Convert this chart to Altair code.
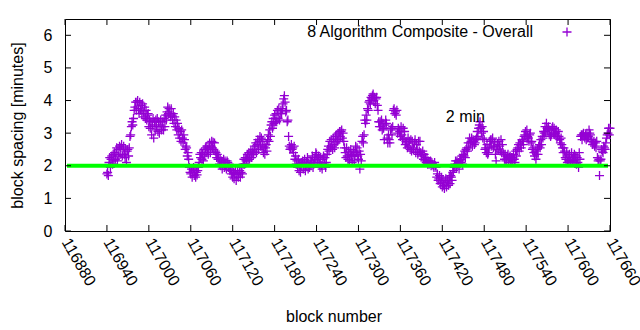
import altair as alt
import pandas as pd

# ---------------- data ----------------
start_block = 116940
spacing_rows = [
    [1.75, 1.80, 1.70, 2.10, 2.25, 1.95, 2.20, 2.30, 2.05, 2.35],
    [2.15, 2.40, 2.20, 2.35, 2.55, 2.15, 2.50, 2.30, 2.60, 2.35],
    [2.55, 2.65, 2.30, 2.50, 2.60, 2.35, 2.25, 2.50, 2.10, 2.45],
    [2.50, 2.30, 2.55, 2.90, 2.95, 3.20, 3.35, 3.25, 3.45, 3.70],
    [3.80, 3.95, 3.70, 3.95, 4.00, 3.75, 3.60, 3.95, 3.70, 3.85],
    [3.60, 3.90, 3.65, 3.50, 3.80, 3.45, 3.70, 3.40, 3.55, 3.60],
    [3.20, 3.40, 3.15, 3.35, 2.95, 3.25, 3.45, 2.85, 3.35, 3.10],
    [3.40, 3.20, 3.45, 3.05, 3.35, 3.00, 3.25, 3.40, 3.10, 3.20],
    [3.35, 3.10, 3.45, 3.20, 3.55, 3.40, 3.65, 3.80, 3.60, 3.75],
    [3.60, 3.50, 3.75, 3.55, 3.40, 3.60, 3.30, 3.50, 3.20, 3.40],
    [3.10, 3.30, 2.95, 3.15, 2.85, 3.05, 2.75, 3.10, 2.85, 2.70],
    [2.95, 2.80, 2.50, 2.60, 2.55, 2.30, 2.40, 2.20, 1.95, 1.80],
    [1.75, 1.90, 1.65, 1.80, 1.95, 1.70, 1.85, 1.65, 1.80, 1.72],
    [1.85, 1.95, 2.10, 2.35, 2.25, 2.40, 2.20, 2.35, 2.15, 2.50],
    [2.30, 2.55, 2.40, 2.60, 2.50, 2.35, 2.55, 2.70, 2.40, 2.60],
    [2.75, 2.55, 2.72, 2.50, 2.70, 2.45, 2.40, 2.25, 2.35, 2.20],
    [2.25, 2.05, 2.20, 2.00, 2.15, 1.90, 2.10, 2.20, 1.95, 2.15],
    [2.00, 1.90, 2.15, 2.10, 1.95, 2.05, 1.85, 1.90, 1.75, 1.85],
    [1.65, 1.80, 1.60, 1.75, 1.85, 1.55, 1.72, 1.85, 1.65, 1.75],
    [1.85, 1.65, 1.80, 1.95, 1.75, 2.05, 2.20, 2.05, 2.25, 2.15],
    [2.20, 2.35, 2.15, 2.40, 2.20, 2.35, 2.45, 2.25, 2.40, 2.50],
    [2.35, 2.60, 2.45, 2.70, 2.40, 2.65, 2.80, 2.50, 2.75, 2.90],
    [2.60, 2.85, 2.55, 2.75, 2.40, 2.60, 2.35, 2.55, 2.65, 2.45],
    [2.80, 2.95, 2.75, 3.10, 2.90, 3.25, 3.35, 3.15, 3.45, 3.30],
    [3.55, 3.35, 3.60, 3.35, 3.70, 3.45, 3.75, 3.40, 3.60, 3.70],
    [3.60, 3.75, 3.90, 4.05, 4.15, 3.95, 3.65, 3.70, 3.35, 3.40],
    [2.90, 2.60, 2.50, 2.55, 2.65, 2.50, 2.55, 2.40, 2.60, 2.20],
    [2.30, 2.05, 2.15, 1.95, 2.20, 1.85, 2.05, 1.80, 2.00, 2.10],
    [2.15, 1.90, 2.05, 2.20, 1.85, 2.00, 2.10, 2.25, 1.90, 2.05],
    [1.95, 2.15, 2.00, 2.10, 2.30, 1.95, 2.05, 2.15, 2.25, 2.40],
    [2.35, 2.20, 2.10, 2.30, 2.05, 1.95, 2.25, 2.00, 1.90, 2.20],
    [2.30, 2.05, 2.25, 1.95, 2.10, 2.35, 2.50, 2.60, 2.45, 2.75],
    [2.55, 2.80, 2.60, 2.50, 2.85, 2.65, 2.55, 2.90, 2.70, 2.95],
    [2.75, 3.00, 2.80, 3.05, 2.90, 3.05, 3.10, 2.85, 3.00, 2.75],
    [2.55, 2.40, 2.25, 2.55, 2.30, 2.20, 2.45, 2.15, 2.35, 2.50],
    [2.30, 2.10, 2.30, 2.45, 2.15, 2.35, 2.60, 2.40, 2.55, 2.30],
    [2.20, 2.45, 1.90, 2.35, 2.15, 2.75, 2.90, 2.70, 2.95, 3.40],
    [3.30, 3.55, 3.40, 3.75, 3.70, 3.95, 4.00, 3.90, 4.10, 4.05],
    [4.15, 4.20, 4.00, 4.10, 3.90, 4.05, 4.10, 3.85, 3.70, 3.35],
    [3.20, 3.35, 3.20, 3.40, 3.10, 3.30, 3.15, 2.80, 3.25, 3.40],
    [3.30, 2.85, 2.70, 2.95, 2.80, 2.70, 3.10, 3.15, 2.95, 3.20],
    [3.70, 3.75, 3.60, 3.65, 3.55, 3.70, 3.00, 3.15, 3.10, 3.05],
    [2.90, 3.20, 2.95, 2.80, 3.15, 2.85, 3.05, 2.65, 2.75, 2.70],
    [2.55, 2.85, 2.60, 2.75, 2.50, 2.80, 2.45, 2.75, 2.55, 2.50],
    [2.70, 2.80, 2.40, 2.65, 2.50, 2.35, 2.75, 2.45, 2.75, 2.40],
    [2.30, 2.35, 2.45, 2.20, 2.35, 2.15, 2.25, 2.10, 2.25, 2.05],
    [2.15, 2.05, 2.10, 2.15, 2.00, 2.10, 2.05, 2.00, 1.95, 2.10],
    [2.00, 1.95, 1.65, 1.75, 1.55, 1.60, 1.70, 1.45, 1.50, 1.65],
    [1.35, 1.55, 1.40, 1.30, 1.50, 1.60, 1.35, 1.55, 1.50, 1.40],
    [1.65, 1.45, 1.70, 1.65, 1.55, 1.80, 1.85, 1.95, 2.05, 2.15],
    [1.95, 2.15, 2.05, 2.10, 1.90, 2.15, 2.20, 2.10, 2.30, 2.05],
    [2.35, 2.30, 2.45, 2.25, 2.50, 2.55, 2.45, 2.70, 2.55, 2.85],
    [2.70, 2.75, 2.85, 2.60, 2.80, 2.75, 2.65, 2.70, 2.80, 2.85],
    [3.05, 2.90, 3.15, 3.25, 3.35, 3.15, 3.00, 3.20, 2.85, 3.05],
    [2.80, 2.50, 2.55, 2.40, 2.65, 2.35, 2.40, 2.55, 2.75, 2.80],
    [2.60, 2.80, 2.85, 2.55, 2.60, 2.70, 2.35, 2.15, 2.50, 2.65],
    [2.50, 2.75, 2.60, 2.45, 2.80, 2.40, 2.65, 2.40, 2.35, 2.20],
    [2.35, 2.15, 2.20, 2.30, 2.35, 2.10, 2.25, 2.30, 2.10, 2.25],
    [2.15, 2.25, 2.35, 2.20, 2.10, 2.45, 2.30, 2.50, 2.55, 2.65],
    [2.45, 2.70, 2.65, 2.55, 2.80, 2.75, 2.65, 2.90, 2.95, 3.05],
    [2.85, 3.10, 2.90, 2.85, 2.75, 2.95, 3.00, 2.70, 2.75, 2.50],
    [2.55, 2.40, 2.30, 2.45, 2.20, 2.35, 2.50, 2.35, 2.60, 2.65],
    [2.55, 2.80, 2.65, 2.90, 2.85, 3.05, 3.00, 3.20, 3.05, 3.30],
    [3.15, 3.10, 3.20, 2.95, 3.10, 2.90, 2.95, 3.15, 3.20, 3.00],
    [3.15, 2.95, 3.00, 3.10, 2.85, 2.90, 3.05, 2.90, 2.80, 2.70],
    [2.85, 2.65, 2.55, 2.40, 2.55, 2.45, 2.25, 2.20, 2.40, 2.10],
    [2.30, 2.15, 2.35, 2.15, 2.10, 2.40, 2.20, 2.15, 2.25, 2.35],
    [2.15, 2.30, 2.05, 2.25, 2.10, 1.95, 2.40, 2.20, 2.90, 2.95],
    [2.80, 2.95, 3.00, 2.90, 2.85, 2.95, 2.80, 3.00, 2.85, 2.90],
    [3.10, 3.00, 2.95, 2.75, 2.80, 2.65, 2.70, 2.75, 2.60, 2.70],
    [2.55, 2.75, 2.25, 2.15, 2.20, 1.70, 2.15, 2.20, 2.50, 2.45],
    [2.40, 2.60, 2.55, 2.50, 2.70, 2.85, 2.95, 3.00, 3.15, 2.95],
    [3.15],
]
x_ticks = list(range(116880, 117661, 60))
y_ticks = [0, 1, 2, 3, 4, 5, 6]
target_minutes = 2
series_label = "8 Algorithm Composite - Overall"
note_label = "2 min"
note_block = 117425
note_value = 3.5

spacing = [v for row in spacing_rows for v in row]
blocks = list(range(start_block, start_block + len(spacing)))
df = pd.DataFrame({"block": blocks, "spacing": spacing})

# ---------------- styling ----------------
FONT = "Liberation Sans"
FS = 16
PURPLE = "#9400d3"
GREEN = "#00ff00"
W, H = 545, 212
PLUS = "M-1,0L1,0M0,-1L0,1"

xscale = alt.Scale(domain=[116880, 117660], nice=False, zero=False)
yscale = alt.Scale(domain=[0, 6.5], nice=False, zero=True)

xaxis = alt.Axis(values=x_ticks, format="d", labelAngle=60, labelAlign="left",
                 labelBaseline="middle", labelPadding=8, ticks=False, grid=False,
                 domain=False, labelOverlap=False, labelFlush=False,
                 labelFont=FONT, labelFontSize=FS, labelColor="black",
                 title="block number", titleFont=FONT, titleFontSize=FS,
                 titleFontWeight="normal", titleColor="black",
                 titleX=W / 2 - 4, titleY=85, titleBaseline="middle", titleAlign="center")
yaxis = alt.Axis(values=y_ticks, format="d", ticks=False, grid=False, domain=False,
                 labelPadding=13, labelOverlap=False, labelFlush=False,
                 labelFont=FONT, labelFontSize=FS, labelColor="black",
                 title="block spacing [minutes]", titleFont=FONT, titleFontSize=FS,
                 titleFontWeight="normal", titleColor="black",
                 titleX=-48, titleY=H / 2, titleAngle=270, titleAlign="center",
                 titleBaseline="middle")


def X(field):
    return alt.X(field, type="quantitative", scale=xscale, axis=xaxis)


def Y(field):
    return alt.Y(field, type="quantitative", scale=yscale, axis=yaxis)


points = alt.Chart(df).mark_point(shape=PLUS, filled=False, size=81, strokeWidth=1.3,
                                  color=PURPLE, opacity=1).encode(
    x=X("block"), y=Y("spacing"))

target_line = alt.Chart(pd.DataFrame({"spacing": [target_minutes]})).mark_rule(
    color=GREEN, strokeWidth=4).encode(
    y=Y("spacing"), x=alt.value(2), x2=alt.value(W - 2))

ydf = pd.DataFrame({"spacing": y_ticks})
xdf = pd.DataFrame({"block": x_ticks})
tick_left = alt.Chart(ydf).mark_rule(color="black", strokeWidth=1).encode(
    y=Y("spacing"), x=alt.value(0), x2=alt.value(6))
tick_right = alt.Chart(ydf).mark_rule(color="black", strokeWidth=1).encode(
    y=Y("spacing"), x=alt.value(W - 6), x2=alt.value(W))
tick_bottom = alt.Chart(xdf).mark_rule(color="black", strokeWidth=1).encode(
    x=X("block"), y=alt.value(H), y2=alt.value(H - 6))
tick_top = alt.Chart(xdf).mark_rule(color="black", strokeWidth=1).encode(
    x=X("block"), y=alt.value(0), y2=alt.value(6))

legend_text = alt.Chart(pd.DataFrame({"label": [series_label]})).mark_text(
    align="right", baseline="middle", font=FONT, fontSize=FS, color="black").encode(
    text="label:N", x=alt.value(468), y=alt.value(13))
legend_sym = alt.Chart(pd.DataFrame({"label": [series_label]})).mark_point(
    shape=PLUS, filled=False, size=81, strokeWidth=1.3, color=PURPLE, opacity=1).encode(
    x=alt.value(502), y=alt.value(13))

note = alt.Chart(pd.DataFrame({"block": [note_block], "spacing": [note_value],
                               "t": [note_label]})).mark_text(
    align="left", baseline="middle", font=FONT, fontSize=FS, color="black").encode(
    x=X("block"), y=Y("spacing"), text="t:N")

chart = alt.layer(
    points, target_line, tick_left, tick_right, tick_bottom, tick_top,
    legend_text, legend_sym, note
).properties(
    width=W, height=H,
    autosize=alt.AutoSizeParams(type="none"),
    padding={"left": 65, "top": 19, "right": 30, "bottom": 99},
    background="white",
).configure_view(stroke="black", strokeWidth=1)

chart.save("out.html", embed_options={"renderer": "svg", "actions": False})
